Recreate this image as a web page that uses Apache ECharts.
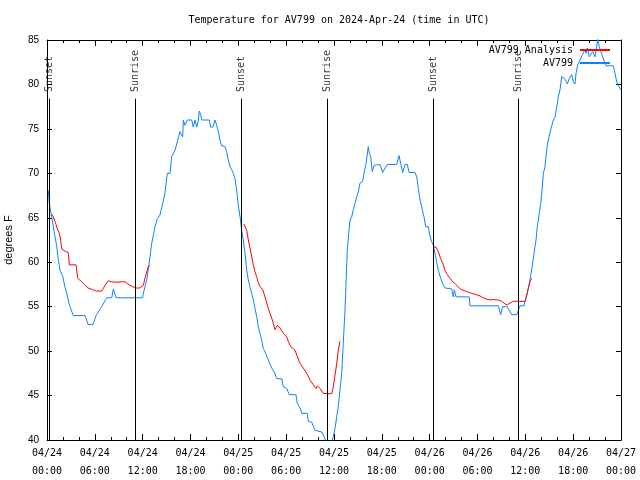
<!DOCTYPE html>
<html>
<head>
<meta charset="utf-8">
<script src="https://cdn.jsdelivr.net/npm/echarts@6/dist/echarts.min.js"></script>
<style>html,body{margin:0;padding:0;background:#fff;}#c{width:640px;height:480px;}</style>
</head>
<body>
<div id="c"></div>
<script>
// x tick labels (every 6 hours from 2024-04-24 00:00 UTC)
var xTickLabels = ['04/24\n00:00','04/24\n06:00','04/24\n12:00','04/24\n18:00','04/25\n00:00','04/25\n06:00','04/25\n12:00','04/25\n18:00','04/26\n00:00','04/26\n06:00','04/26\n12:00','04/26\n18:00','04/27\n00:00'];

// Observed AV799 (hours since 04/24 00:00 UTC, degrees F)
var obsHours = [0.16,0.29,0.59,0.79,1.0,1.22,1.42,1.63,1.97,2.26,2.47,2.8,3.3,4.77,5.14,5.77,6.15,6.86,7.49,8.12,8.32,8.66,12.0,12.08,12.51,12.92,13.13,13.55,13.84,14.17,14.51,14.8,15.09,15.43,15.64,16.06,16.68,17.02,17.1,17.31,17.6,18.15,18.35,18.56,18.78,18.98,19.1,19.28,19.41,20.36,20.53,20.79,21.07,21.29,21.49,21.7,21.91,22.33,22.54,22.74,22.96,23.17,23.37,23.58,23.8,23.92,24.08,24.25,24.42,24.62,24.84,25.05,25.25,25.46,25.68,25.88,26.09,26.3,26.5,26.72,26.93,27.13,27.35,27.76,28.19,28.6,28.81,29.44,29.64,30.07,30.39,31.23,31.4,31.74,31.95,32.65,32.78,33.2,33.62,34.46,34.75,35.12,35.62,35.91,36.13,36.34,36.54,36.75,36.97,37.17,37.38,37.5,37.67,37.85,38.01,38.22,38.42,38.63,38.85,39.05,39.26,39.6,39.76,40.02,40.18,40.3,40.43,40.6,40.8,41.02,41.23,41.77,42.11,42.4,42.69,43.87,44.15,44.37,44.62,44.91,45.2,45.41,46.16,46.38,46.58,46.79,47.0,47.13,47.29,47.5,47.83,48.04,48.25,48.46,48.67,48.88,49.08,49.38,49.63,49.92,50.05,50.76,50.96,51.09,51.3,52.97,53.06,56.61,56.91,57.16,57.74,58.29,58.92,59.12,59.33,59.83,60.0,60.25,60.5,60.71,60.92,61.09,61.34,61.5,61.63,61.93,62.13,62.26,62.47,62.59,62.76,62.97,63.18,63.38,63.51,63.72,63.94,64.14,64.35,64.56,64.76,64.98,65.27,65.52,65.82,66.02,66.23,66.36,66.57,66.86,67.07,67.27,67.48,67.61,67.77,68.02,68.24,68.45,68.74,68.95,69.08,69.28,69.46,69.71,69.91,70.12,71.04,71.25,71.46,71.67,71.97];
var obsTemps = [68.1,66.6,65.1,64.0,62.9,61.8,60.3,59.1,58.4,57.2,56.5,55.2,54.0,54.0,53.0,53.0,54.0,55.0,56.0,56.0,57.0,56.0,56.0,56.5,58.0,60.6,62.1,64.0,64.9,65.3,66.6,67.8,70.0,70.0,71.9,72.6,74.7,74.1,76.0,75.4,76.0,76.0,75.2,76.0,75.2,76.0,77.0,76.6,76.0,76.0,75.2,75.2,76.0,75.4,74.7,73.75,73.1,73.0,72.4,71.5,70.75,70.4,70.0,69.4,68.1,67.0,65.9,64.9,63.6,62.5,61.0,59.1,58.0,57.2,56.5,55.75,54.8,53.9,52.75,52.0,51.25,50.3,49.9,49.0,48.1,47.5,46.9,46.9,46.0,45.8,45.1,45.1,44.1,43.6,43.0,43.0,42.1,42.0,41.1,40.9,40.4,39.5,39.5,40.4,41.3,42.6,43.75,45.6,47.5,51.0,54.6,57.5,61.4,63.25,64.75,65.1,65.9,66.6,67.4,67.9,68.9,69.1,70.0,71.1,71.1,73.0,72.25,71.9,70.2,70.9,71.0,71.0,70.1,70.6,71.0,71.0,72.0,71.1,70.1,71.0,71.0,70.1,70.1,69.6,68.3,67.0,66.8,65.7,65.1,64.0,64.0,62.95,62.3,61.9,61.0,60.0,59.1,58.2,57.6,57.1,57.0,57.0,56.1,56.9,56.1,56.1,55.1,55.1,54.1,55.0,55.0,54.1,54.1,54.6,55.1,55.1,55.75,56.5,57.6,58.75,59.9,61.0,62.5,64.0,64.75,66.6,68.5,70.0,70.75,71.9,73.2,74.1,74.9,75.1,76.0,76.3,77.5,78.6,79.4,80.9,81.1,80.6,80.05,80.7,81.1,80.3,80.05,81.25,82.2,82.75,83.2,83.1,83.9,83.5,84.1,83.1,83.1,83.7,83.1,84.25,85.1,84.25,83.7,83.1,82.6,82.1,82.1,81.25,80.3,79.9,79.4];

// AV799 Analysis (null = gap)
var anaHours = [0.59,0.79,1.0,1.29,1.54,1.72,1.84,2.26,2.67,2.8,3.64,3.85,4.35,4.77,5.18,5.73,6.23,6.86,7.28,7.69,8.12,8.74,9.37,9.78,10.07,10.41,10.75,11.25,11.67,11.88,12.08,12.29,12.51,12.71,12.92,18.0,24.71,24.92,25.05,25.25,25.46,25.68,25.88,26.09,26.3,26.5,26.72,27.06,27.35,27.56,27.76,27.97,28.19,28.39,28.6,28.89,29.23,29.64,30.07,30.27,30.57,30.82,31.11,31.4,31.74,32.15,32.58,32.99,33.41,33.74,33.91,34.24,34.66,35.71,35.91,36.13,36.34,36.54,36.75,42.0,48.46,48.8,49.08,49.38,49.63,49.92,50.21,50.55,50.89,51.18,51.6,52.02,52.65,53.27,53.69,54.32,54.94,55.57,55.78,55.98,56.61,57.04,57.45,57.74,58.08,58.49,59.12,59.96,60.17,60.37,60.59,60.8];
var anaTemps = [65.4,65.1,64.6,63.8,63.25,62.5,61.5,61.25,61.1,59.7,59.7,58.2,57.8,57.4,57.1,56.9,56.75,56.75,57.4,57.9,57.8,57.75,57.8,57.8,57.6,57.4,57.25,57.1,57.1,57.0,57.4,58.2,58.9,59.5,59.6,null,64.3,64.2,63.6,62.5,61.6,60.6,59.7,58.9,58.4,57.7,57.25,56.9,56.1,55.4,54.8,54.25,53.7,53.1,52.4,52.9,52.6,52.0,51.6,51.1,50.5,50.6,50.1,49.4,48.6,48.1,47.5,46.75,46.2,45.8,46.1,45.8,45.25,45.2,46.0,47.3,48.6,50.1,51.1,null,61.75,61.7,61.2,60.4,59.9,59.1,58.6,58.2,57.8,57.6,57.2,56.9,56.7,56.5,56.4,56.2,55.9,55.75,55.6,55.8,55.75,55.6,55.3,55.2,55.4,55.6,55.6,55.6,56.3,57.1,57.8,58.2];

// Sun events
var eventNames = ['Sunset','Sunrise','Sunset','Sunrise','Sunset','Sunrise'];
var eventHours = [0.29,11.12,24.38,35.16,48.46,59.12];

var MONO = '"DejaVu Sans Mono", "Liberation Mono", monospace';
var SANS = '"Liberation Sans", Arial, sans-serif';

function zip(h, t) {
  var out = [];
  for (var i = 0; i < h.length; i++) out.push([h[i], t[i] == null ? '-' : t[i]]);
  return out;
}

var chart = echarts.init(document.getElementById('c'), null, {renderer: 'canvas'});
var axisCommon = {
  axisLine: {show: true, onZero: false, lineStyle: {color: '#000', width: 1}},
  splitLine: {show: false}
};
chart.setOption({
  animation: false,
  backgroundColor: '#fff',
  title: {
    text: 'Temperature for AV799 on 2024-Apr-24 (time in UTC)',
    left: 334, top: 10, textAlign: 'center',
    textStyle: {fontFamily: MONO, fontSize: 10, fontWeight: 'normal', color: '#000'}
  },
  legend: {
    orient: 'vertical', align: 'right', right: 25, top: 40,
    itemWidth: 30, itemHeight: 2, itemGap: 3, icon: 'rect',
    data: ['AV799 Analysis', 'AV799'],
    textStyle: {fontFamily: MONO, fontSize: 10, color: '#000', padding: [0, 2, 0, 0]}
  },
  grid: {left: 47, right: 19, top: 40, bottom: 40, containLabel: false, outerBoundsMode: 'none'},
  xAxis: [
    Object.assign({
      type: 'value', min: 0, max: 72, interval: 6, position: 'bottom',
      axisTick: {show: true, inside: true, length: 6, lineStyle: {color: '#000'}},
      minorTick: {show: true, splitNumber: 3, length: 3, lineStyle: {color: '#000'}},
      axisLabel: {
        fontFamily: MONO, fontSize: 10, color: '#000', lineHeight: 18, margin: 4,
        formatter: function (v) { return xTickLabels[Math.round(v / 6)]; }
      }
    }, axisCommon),
    Object.assign({
      type: 'value', min: 0, max: 72, interval: 6, position: 'top',
      axisTick: {show: true, inside: true, length: 6, lineStyle: {color: '#000'}},
      minorTick: {show: true, splitNumber: 3, length: 3, lineStyle: {color: '#000'}},
      axisLabel: {show: false}
    }, axisCommon)
  ],
  yAxis: [
    Object.assign({
      type: 'value', min: 40, max: 85, interval: 5, position: 'left',
      name: 'degrees F', nameLocation: 'middle', nameRotate: 90, nameGap: 33,
      nameTextStyle: {fontFamily: SANS, fontSize: 11, color: '#000'},
      axisTick: {show: true, inside: true, length: 5, lineStyle: {color: '#000'}},
      axisLabel: {fontFamily: SANS, fontSize: 10, color: '#000', margin: 8}
    }, axisCommon),
    Object.assign({
      type: 'value', min: 40, max: 85, interval: 5, position: 'right',
      axisTick: {show: true, inside: true, length: 5, lineStyle: {color: '#000'}},
      axisLabel: {show: false}
    }, axisCommon)
  ],
  series: [
    {
      name: 'AV799 Analysis', type: 'line', xAxisIndex: 0, yAxisIndex: 0,
      data: zip(anaHours, anaTemps), showSymbol: false, symbol: 'none',
      connectNulls: false, color: '#ff0000',
      lineStyle: {color: '#ff0000', width: 1}, z: 3
    },
    {
      name: 'AV799', type: 'line', xAxisIndex: 0, yAxisIndex: 0,
      data: zip(obsHours, obsTemps), showSymbol: false, symbol: 'none',
      color: '#1080ff',
      lineStyle: {color: '#1080ff', width: 1}, z: 2
    },
    {
      name: 'events', type: 'scatter', xAxisIndex: 0, yAxisIndex: 0,
      symbolSize: 0, silent: true,
      data: eventHours.map(function (h, i) { return {value: [h, 79.15], name: eventNames[i]}; }),
      label: {
        show: true, position: [0, 0], rotate: 90, align: 'left', verticalAlign: 'middle',
        fontFamily: MONO, fontSize: 10, color: '#000',
        formatter: function (p) { return p.name; }
      },
      markLine: {
        silent: true, symbol: ['none', 'none'], label: {show: false},
        lineStyle: {color: '#000', width: 1, type: 'solid'},
        data: eventHours.map(function (h) { return [{coord: [h, 40]}, {coord: [h, 78.4]}]; })
      }
    }
  ]
});
</script>
</body>
</html>
